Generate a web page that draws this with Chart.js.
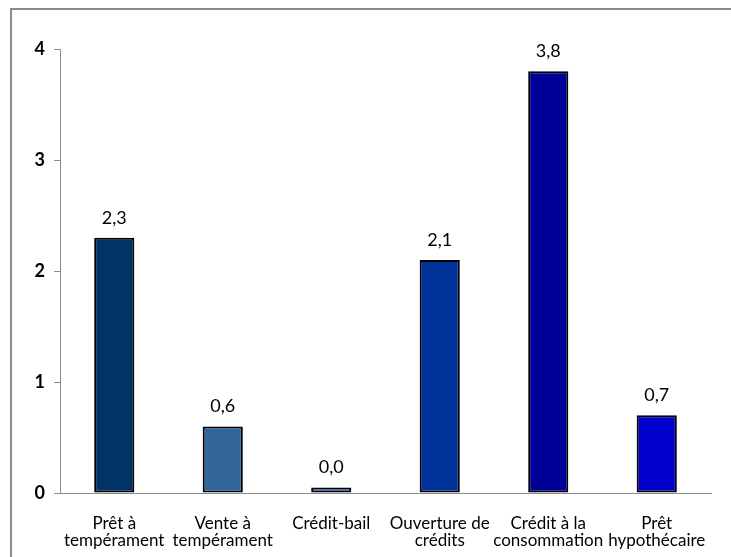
<!DOCTYPE html>
<html><head><meta charset="utf-8">
<script src="https://cdn.jsdelivr.net/npm/chart.js@4/dist/chart.umd.min.js"></script>
<style>
html,body{margin:0;padding:0;background:#fff;}
#wrap{position:relative;width:731px;height:557px;overflow:hidden;}
#frame{position:absolute;left:10px;top:8px;width:800px;height:700px;border-left:2px solid #8c8c8c;border-top:2px solid #8c8c8c;box-sizing:border-box;}
canvas{position:absolute;left:0;top:0;}
</style></head>
<body><div id="wrap"><div id="frame"></div><canvas id="c" width="731" height="557"></canvas></div>
<script>
const categories = [["Prêt à","tempérament"],["Vente à","tempérament"],"Crédit-bail",["Ouverture de","crédits"],["Crédit à la","consommation"],["Prêt","hypothécaire"]];
const values = [2.3, 0.6, 0.049, 2.1, 3.8, 0.7];
const barColors = ["#003366","#336699","#3366CC","#003399","#000099","#0000CC"];
const yTicks = [0,1,2,3,4];

const FONT = "Lato, 'Open Sans', sans-serif";

const labelPlugin = {
  id:'vlabels',
  afterDatasetsDraw(chart){
    const ctx = chart.ctx;
    const meta = chart.getDatasetMeta(0);
    ctx.save();
    ctx.font = "18px " + FONT;
    ctx.fillStyle = "#000";
    ctx.textAlign = "center";
    ctx.textBaseline = "bottom";
    meta.data.forEach((bar,i)=>{
      const txt = values[i].toFixed(1).replace('.',',');
      ctx.fillText(txt, bar.x, bar.y - 11);
    });
    ctx.restore();
  }
};

new Chart(document.getElementById('c'),{
  type:'bar',
  data:{labels:categories,datasets:[{data:values,backgroundColor:barColors,borderColor:"#000",borderWidth:2,borderSkipped:false,barPercentage:0.37,categoryPercentage:1}]},
  options:{
    responsive:false,animation:false,
    layout:{padding:{left:0,right:20,top:49,bottom:0}},
    plugins:{legend:{display:false},tooltip:{enabled:false}},
    scales:{
      x:{
        grid:{display:false},
        border:{display:true,color:"#8c8c8c",width:1},
        ticks:{color:"#000",font:{family:FONT,size:17,lineHeight:1.0},padding:14,maxRotation:0,autoSkip:false},
        afterFit(s){s.height=64;}
      },
      y:{
        min:0,max:4,
        afterBuildTicks(s){s.ticks=yTicks.map(v=>({value:v}));},
        grid:{display:true,drawOnChartArea:false,drawTicks:true,tickLength:6,color:"#8c8c8c"},
        border:{display:true,color:"#8c8c8c",width:1},
        ticks:{color:"#000",font:{family:FONT,size:18,weight:'bold'},padding:9},
        afterFit(s){s.width=60;}
      }
    }
  },
  plugins:[labelPlugin]
});
</script></body></html>
